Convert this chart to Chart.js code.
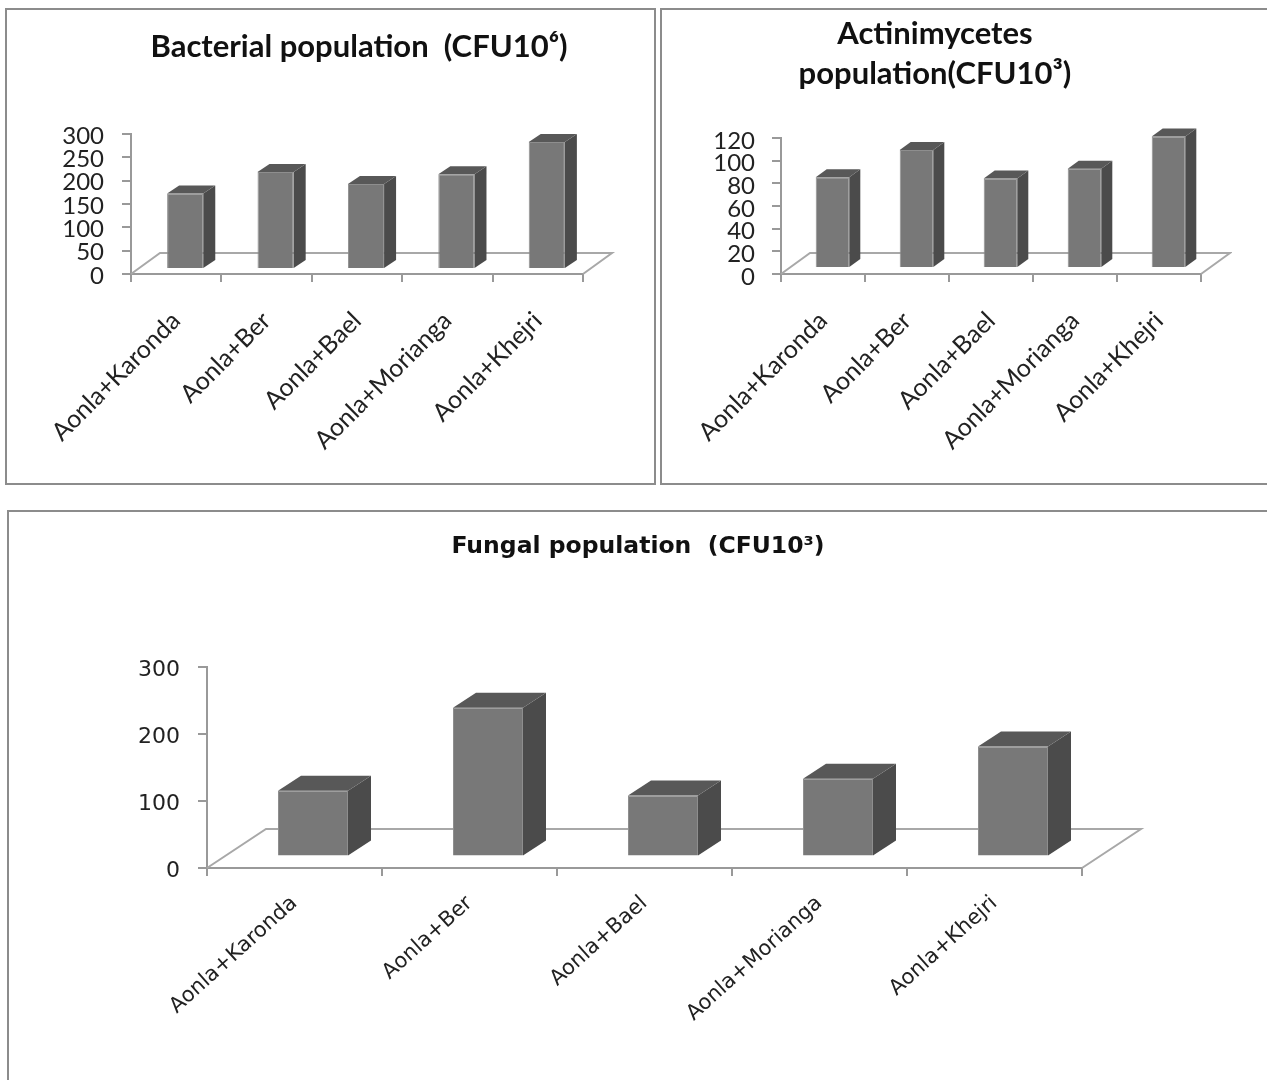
<!DOCTYPE html>
<html>
<head>
<meta charset="utf-8">
<script src="https://cdn.jsdelivr.net/npm/chart.js@4"></script>
<style>
html,body{margin:0;padding:0;background:#fff;overflow:hidden;width:1267px;height:1080px}
.frame{position:absolute;box-sizing:border-box;border:2px solid #8c8c8c}
canvas{position:absolute}
</style>
</head>
<body>
<div class="frame" style="left:5px;top:8px;width:651px;height:477px"></div>
<div class="frame" style="left:660px;top:8px;width:640px;height:477px"></div>
<div class="frame" style="left:7px;top:510px;width:1300px;height:600px"></div>
<canvas id="c1" style="left:0;top:0;width:718px;height:484px"></canvas>
<canvas id="c2" style="left:638px;top:0;width:594px;height:484px"></canvas>
<canvas id="c3" style="left:0;top:510px;width:1276px;height:570px"></canvas>
<script>
const categories = ["Aonla+Karonda","Aonla+Ber","Aonla+Bael","Aonla+Morianga","Aonla+Khejri"];
const bacterial = [162,208,182,203,272];
const actinomycetes = [80,104,79,87.5,116];
const fungal = [98,222,91,116,164];
const titleBacterial = "Bacterial population  (CFU10⁶)";
const titleActino = ["Actinimycetes","population(CFU10³)"];
const titleFungal = "Fungal population  (CFU10³)";

const cube = {
  id:'cube',
  beforeDatasetsDraw(chart,args,o){
    const {ctx,chartArea:a}=chart;
    ctx.save();
    ctx.strokeStyle='#a8a8a8';ctx.lineWidth=2;
    ctx.beginPath();
    ctx.moveTo(a.left,a.bottom);
    ctx.lineTo(a.left+o.floorX,a.bottom-o.floorY);
    ctx.lineTo(a.right+o.floorX,a.bottom-o.floorY);
    ctx.lineTo(a.right,a.bottom);
    ctx.stroke();
    ctx.restore();
  },
  beforeDatasetDraw(chart,args,o){
    chart.ctx.save();
    chart.ctx.translate(o.shiftX,-o.shiftY);
  },
  afterDatasetDraw(chart,args,o){
    const ctx=chart.ctx;
    chart.getDatasetMeta(args.index).data.forEach(el=>{
      const p=el.getProps(['x','y','base','width'],true);
      const l=p.x-p.width/2,r=p.x+p.width/2,t=p.y,b=p.base,dx=o.depthX,dy=o.depthY;
      ctx.fillStyle='#4b4b4b';
      ctx.beginPath();ctx.moveTo(r,t);ctx.lineTo(r+dx,t-dy);ctx.lineTo(r+dx,b-dy);ctx.lineTo(r,b);ctx.closePath();ctx.fill();
      ctx.fillStyle='#585858';
      ctx.beginPath();ctx.moveTo(l,t);ctx.lineTo(l+dx,t-dy);ctx.lineTo(r+dx,t-dy);ctx.lineTo(r,t);ctx.closePath();ctx.fill();
    });
    ctx.restore();
  }
};

function make(id,cfg){
  const canvas=document.getElementById(id);
  new Chart(canvas,{
    type:'bar',
    plugins:[cube],
    data:{labels:categories,datasets:[{data:cfg.values,backgroundColor:'#787878',borderColor:'#8e8e8e',borderWidth:1,
      barPercentage:0.4,categoryPercentage:1,clip:false}]},
    options:{
      responsive:false,animation:false,devicePixelRatio:1,
      layout:{padding:0},
      plugins:{
        legend:{display:false},tooltip:{enabled:false},
        title:{display:true,text:cfg.title,color:'#111',font:{family:cfg.titleFamily,size:cfg.titleSize,weight:'bold',lineHeight:cfg.titleLH},
          padding:{top:cfg.titleTop,bottom:cfg.titleBottom}},
        cube:cfg.cube
      },
      scales:{
        y:{min:0,max:cfg.max,
          ticks:{stepSize:cfg.step,autoSkip:false,color:'#222',padding:cfg.yPad,labelOffset:cfg.yOff,font:{family:cfg.tickFamily,size:cfg.ySize}},
          grid:{drawOnChartArea:false,color:'#999',lineWidth:2,tickLength:9},
          border:{color:'#999',width:2},
          afterFit(s){s.width=cfg.axisLeft;}
        },
        spacer:{type:'linear',position:'right',display:true,
          ticks:{display:false},grid:{display:false,drawTicks:false},border:{display:false},
          afterFit(s){s.width=cfg.padRight;}
        },
        x:{
          ticks:{autoSkip:false,maxRotation:cfg.rot,minRotation:cfg.rot,color:'#222',padding:cfg.xPad,font:{family:cfg.tickFamily,size:cfg.xSize}},
          grid:{drawOnChartArea:false,color:'#999',lineWidth:2,tickLength:8},
          border:{color:'#999',width:2},
          afterFit(s){s.height=cfg.xHeight;}
        }
      }
    }
  });
}
const sizes={c1:[718,484],c2:[594,484],c3:[1276,570]};
Object.keys(sizes).forEach(k=>{const c=document.getElementById(k);c.width=sizes[k][0];c.height=sizes[k][1];});
make('c1',{values:bacterial,title:titleBacterial,max:300,step:50,padRight:135,axisLeft:131,xHeight:210,
  titleFamily:'Lato',titleSize:31,titleLH:1.2,titleTop:28,titleBottom:68.8,tickFamily:'Lato',ySize:24,xSize:25,yPad:18,yOff:2,xPad:24,rot:45,
  cube:{floorX:29,floorY:21,shiftX:9,shiftY:5,depthX:12,depthY:8}});
make('c2',{values:actinomycetes,title:titleActino,max:120,step:20,padRight:31,axisLeft:143,xHeight:210,
  titleFamily:'Lato',titleSize:31,titleLH:1.29,titleTop:14,titleBottom:44,tickFamily:'Lato',ySize:24,xSize:25,yPad:17,yOff:3,xPad:24,rot:45,
  cube:{floorX:29,floorY:21,shiftX:9.5,shiftY:6,depthX:11,depthY:8}});
make('c3',{values:fungal,title:titleFungal,max:300,step:100,padRight:194,axisLeft:207,xHeight:212,
  titleFamily:'DejaVu Sans',titleSize:23.5,titleLH:1.2,titleTop:23,titleBottom:105.8,tickFamily:'DejaVu Sans',ySize:22,xSize:21,yPad:18,yOff:3,xPad:15,rot:42,
  cube:{floorX:59,floorY:39,shiftX:18.5,shiftY:11.5,depthX:23,depthY:15}});
</script>
</body>
</html>
